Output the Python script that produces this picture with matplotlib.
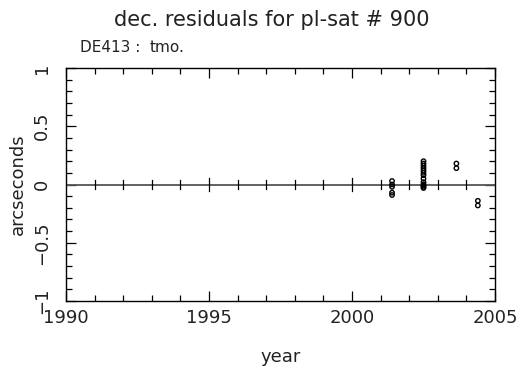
import numpy as np
import matplotlib
matplotlib.use("Agg")
import matplotlib.pyplot as plt

# residual points
years = [2001.4, 2001.4, 2001.4, 2001.4, 2001.4,
         2002.5, 2002.5, 2002.5, 2002.5, 2002.5, 2002.5, 2002.5, 2002.5,
         2002.5, 2002.5, 2002.5, 2002.5, 2002.5,
         2003.65, 2003.65,
         2004.4, 2004.4]
resid = [0.03, 0.0, -0.02, -0.07, -0.09,
         0.2, 0.18, 0.16, 0.14, 0.12, 0.1, 0.08, 0.05,
         0.02, 0.0, -0.01, -0.02, -0.03,
         0.18, 0.14,
         -0.14, -0.18]

xticks = [1990, 1995, 2000, 2005]
yticks = [-1, -0.5, 0, 0.5, 1]
yticklabels = ["\u22121", "\u22120.5", "0", "0.5", "1"]

fig = plt.figure(figsize=(5.21, 3.72), dpi=100)
ax = fig.add_axes([66/521, 1-301/372, (495-66)/521, (301-68)/372])

ax.scatter(years, resid, s=10, facecolors="none", edgecolors="black", linewidths=1.0, zorder=3)

# zero line with year ticks on it
ax.axhline(0, color="#555555", lw=1.3, zorder=2)
for yr in range(1991, 2005):
    h = 0.06 if yr % 5 == 0 else 0.035
    ax.plot([yr, yr], [-h, h], color="black", lw=0.9, zorder=2)

ax.set_xlim(1990, 2005)
ax.set_ylim(-1, 1)
ax.set_xticks(xticks)
ax.set_xticks(np.arange(1990, 2006, 1), minor=True)
ax.set_yticks(yticks)
ax.set_yticklabels(yticklabels, rotation=90, va="center")
ax.set_yticks(np.arange(-1, 1.01, 0.1), minor=True)
ax.tick_params(which="both", direction="in", top=True, right=True, labelsize=13,
               width=0.9, labelcolor="#222222")
ax.tick_params(which="major", length=7)
ax.tick_params(which="minor", length=4)
ax.tick_params(axis="x", pad=6)
ax.tick_params(axis="y", pad=11)
for s in ax.spines.values():
    s.set_linewidth(1.0)

ax.set_xlabel("year", fontsize=13, labelpad=15, color="#222222")
ax.set_ylabel("arcseconds", fontsize=13, labelpad=4, color="#222222")

fig.text(272/521, 1-20/372, "dec. residuals for pl-sat # 900", ha="center", va="center",
         fontsize=15, color="#222222")
fig.text(80/521, 1-47/372, "DE413 :", ha="left", va="center", fontsize=11, color="#222222")
fig.text(150/521, 1-47/372, "tmo.", ha="left", va="center", fontsize=11, color="#222222")

plt.savefig("out.png", dpi=100)
